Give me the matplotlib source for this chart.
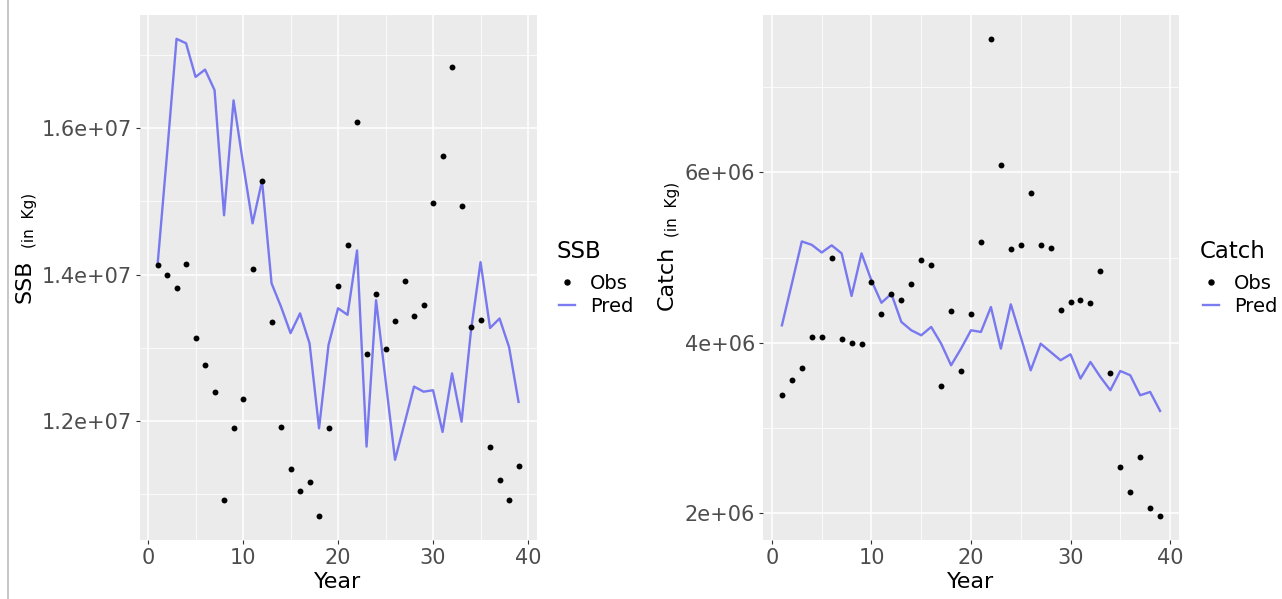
# ====================================================
# SSB and Catch: observed vs predicted (ggplot-like look)
# ====================================================

import matplotlib
matplotlib.use("Agg")

from matplotlib import pyplot as plt
from matplotlib.lines import Line2D

# ====================================================
# Data
# ====================================================

years = list(range(1, 40))

ssb_obs = [
    1.413e7, 1.399e7, 1.382e7, 1.414e7, 1.313e7, 1.277e7, 1.239e7, 1.092e7, 1.190e7, 1.230e7,
    1.408e7, 1.528e7, 1.335e7, 1.192e7, 1.134e7, 1.105e7, 1.117e7, 1.070e7, 1.191e7, 1.384e7,
    1.440e7, 1.609e7, 1.292e7, 1.373e7, 1.298e7, 1.337e7, 1.391e7, 1.344e7, 1.358e7, 1.498e7,
    1.562e7, 1.684e7, 1.494e7, 1.329e7, 1.338e7, 1.164e7, 1.119e7, 1.092e7, 1.139e7,
]

ssb_pred = [
    1.413e7, 1.565e7, 1.722e7, 1.716e7, 1.670e7, 1.680e7, 1.652e7, 1.481e7, 1.638e7, 1.552e7,
    1.470e7, 1.528e7, 1.388e7, 1.356e7, 1.320e7, 1.347e7, 1.306e7, 1.190e7, 1.304e7, 1.354e7,
    1.345e7, 1.433e7, 1.165e7, 1.365e7, 1.256e7, 1.147e7, 1.197e7, 1.247e7, 1.240e7, 1.242e7,
    1.185e7, 1.265e7, 1.199e7, 1.324e7, 1.417e7, 1.327e7, 1.340e7, 1.301e7, 1.226e7,
]

catch_obs = [
    3.384e6, 3.560e6, 3.709e6, 4.068e6, 4.068e6, 4.995e6, 4.041e6, 3.998e6, 3.990e6, 4.717e6,
    4.342e6, 4.569e6, 4.507e6, 4.694e6, 4.976e6, 4.909e6, 3.490e6, 4.373e6, 3.669e6, 4.342e6,
    5.182e6, 7.568e6, 6.082e6, 5.097e6, 5.144e6, 5.757e6, 5.144e6, 5.112e6, 4.381e6, 4.479e6,
    4.499e6, 4.472e6, 4.842e6, 3.646e6, 2.536e6, 2.243e6, 2.660e6, 2.055e6, 1.965e6,
]

catch_pred = [
    4.205e6, 4.694e6, 5.190e6, 5.150e6, 5.060e6, 5.144e6, 5.050e6, 4.550e6, 5.050e6, 4.730e6,
    4.470e6, 4.575e6, 4.245e6, 4.147e6, 4.088e6, 4.186e6, 3.990e6, 3.736e6, 3.932e6, 4.147e6,
    4.127e6, 4.420e6, 3.932e6, 4.452e6, 4.068e6, 3.677e6, 3.990e6, 3.892e6, 3.795e6, 3.865e6,
    3.580e6, 3.775e6, 3.599e6, 3.443e6, 3.669e6, 3.619e6, 3.384e6, 3.423e6, 3.200e6,
]

x_ticks = [0, 10, 20, 30, 40]
x_minor = [5, 15, 25, 35]

ssb_ticks = [1.2e7, 1.4e7, 1.6e7]
ssb_tick_labels = ["1.2e+07", "1.4e+07", "1.6e+07"]
ssb_minor = [1.1e7, 1.3e7, 1.5e7, 1.7e7]

catch_ticks = [2e6, 4e6, 6e6]
catch_tick_labels = ["2e+06", "4e+06", "6e+06"]
catch_minor = [3e6, 5e6, 7e6]

# ====================================================
# Helpers
# ====================================================

W, H = 1282, 599
PANEL_BG = "#EBEBEB"
LINE_COLOR = "#6464F0"


def px_box(x0, x1, y0, y1):
    # pixel box (top-left origin) -> figure fraction rect
    return [x0 / W, 1 - y1 / H, (x1 - x0) / W, (y1 - y0) / H]


def style_panel(ax, yticks, ylabels, yminor):
    ax.set_facecolor(PANEL_BG)
    for s in ax.spines.values():
        s.set_visible(False)

    ax.set_xticks(x_ticks)
    ax.set_xticks(x_minor, minor=True)
    ax.set_yticks(yticks)
    ax.set_yticklabels(ylabels)
    ax.set_yticks(yminor, minor=True)

    ax.grid(which="major", color="white", linewidth=1.1)
    ax.grid(which="minor", color="white", linewidth=0.55)
    ax.set_axisbelow(True)

    ax.tick_params(which="major", length=3, width=0.8, color="#333333",
                   labelsize=15, labelcolor="#4D4D4D", pad=2.5)
    ax.tick_params(which="minor", length=0)
    ax.set_xlabel("Year", fontsize=16, labelpad=3, color="black")


def draw_panel(ax, obs, pred):
    ax.plot(years, pred, color=LINE_COLOR, linewidth=1.7, alpha=0.85, zorder=2)
    ax.scatter(years, obs, s=18, color="black", zorder=3, linewidths=0)


def add_legend(ax, title, x_px, y_px):
    fig = ax.figure
    # title drawn on its own so the gap to the keys can match the reference
    fig.text(x_px / W, 1 - (y_px + 12) / H, title, ha="left", va="center", fontsize=16.5)

    handles = [
        Line2D([], [], marker="o", linestyle="", color="black", markersize=3.6),
        Line2D([], [], color=LINE_COLOR, linewidth=1.7, alpha=0.85),
    ]
    ax.legend(handles, ["Obs", "Pred"], loc="upper left",
              bbox_to_anchor=((x_px + 3) / W, 1 - (y_px + 34) / H),
              bbox_transform=fig.transFigure,
              frameon=False, fontsize=14,
              handlelength=0.8, handletextpad=0.8, labelspacing=0.2, borderpad=0,
              borderaxespad=0)


# ====================================================
# Main
# ====================================================

def main() -> None:

    fig = plt.figure(figsize=(W / 100, H / 100), dpi=100)
    fig.patch.set_facecolor("white")

    # ------------------------------------------------
    # SSB panel
    # ------------------------------------------------
    ax1 = fig.add_axes(px_box(139.5, 536.6, 15, 540))
    draw_panel(ax1, ssb_obs, ssb_pred)
    style_panel(ax1, ssb_ticks, ssb_tick_labels, ssb_minor)
    add_legend(ax1, "SSB", 556, 240)

    fig.text(25 / W, 1 - 281 / H, "SSB", rotation=90, ha="center", va="center", fontsize=16)
    fig.text(29.5 / W, 1 - 220 / H, "(in  Kg)", rotation=90, ha="center", va="center", fontsize=11)

    # ------------------------------------------------
    # Catch panel
    # ------------------------------------------------
    ax2 = fig.add_axes(px_box(763, 1179, 15, 540))
    draw_panel(ax2, catch_obs, catch_pred)
    style_panel(ax2, catch_ticks, catch_tick_labels, catch_minor)
    add_legend(ax2, "Catch", 1200, 240)

    fig.text(667 / W, 1 - 278 / H, "Catch", rotation=90, ha="center", va="center", fontsize=16)
    fig.text(673 / W, 1 - 209 / H, "(in  Kg)", rotation=90, ha="center", va="center", fontsize=11)

    # thin border on the left edge of the image
    fig.add_artist(Line2D([7.5 / W, 7.5 / W], [0.0, 1.0], color="#BDBDBD", linewidth=1.2))

    fig.savefig("out.png", dpi=100)
    plt.close(fig)


if __name__ == "__main__":
    main()
